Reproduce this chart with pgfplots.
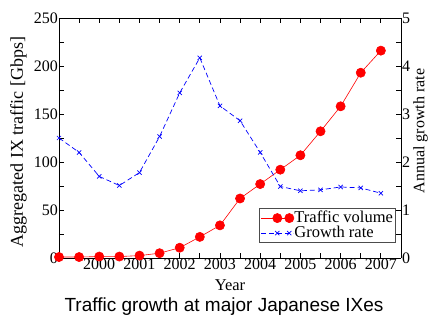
\documentclass[border=0pt]{standalone}
\usepackage{pgfplots}
\pgfplotsset{compat=1.18}
\usepackage{fontspec}
\setmainfont{Liberation Serif}
\newfontfamily\titlefont{Liberation Sans}
\pgfplotstableread{
x vol rate
1999.0 1.0 2.50
1999.5 1.0 2.20
2000.0 1.5 1.70
2000.5 1.5 1.51
2001.0 2.5 1.78
2001.5 5.0 2.53
2002.0 10.7 3.44
2002.5 22.0 4.17
2003.0 34.0 3.17
2003.5 62.0 2.86
2004.0 77.0 2.20
2004.5 92.0 1.49
2005.0 107.0 1.40
2005.5 132.0 1.42
2006.0 158.0 1.48
2006.5 193.0 1.46
2007.0 216.0 1.35
}\data
\begin{document}
\begin{tikzpicture}
\path[use as bounding box] (0,0) rectangle (430pt,318pt);
\pgfplotsset{
  every axis/.append style={
    scale only axis, width=342pt, height=240pt,
    at={(59pt,60pt)}, anchor=south west,
    xmin=1999, xmax=2007.5,
    font=\fontsize{16}{18}\selectfont,
    /pgf/number format/assume math mode=true,
    tick style={black, line width=0.8pt},
    major tick length=5pt, minor tick length=5pt,
    axis line style={line width=0.8pt},
  }
}
\begin{axis}[
  ymin=0, ymax=250,
  axis y line*=left,
  xtick={2000,2001,...,2007},
  minor xtick={1999.5,2000.5,...,2007.5},
  x tick label style={/pgf/number format/1000 sep={}, inner sep=1pt},
  ytick={0,50,...,250},
  minor ytick={25,75,...,225},
  y tick label style={inner sep=1pt},
  ylabel={Aggregated IX traffic [Gbps]},
  ylabel style={at={(axis description cs:0,0.5)}, anchor=south, yshift=32pt, xshift=-4pt,
    inner sep=0pt, font=\fontsize{18}{20}\selectfont},
  xlabel={Year},
  xlabel style={at={(axis description cs:0.5,0)}, anchor=north, yshift=-21pt, inner sep=0pt,
    font=\fontsize{16.5}{18}\selectfont},
  tick align=inside,
  xtick pos=both,
  legend style={at={(0.985,0.0625)}, anchor=south east, draw=black!70, line width=0.8pt,
    font=\fontsize{16.5}{16.5}\selectfont, inner sep=2pt, row sep=0pt,
    nodes={inner sep=0.5pt, text height=11pt, text depth=3pt},
    legend cell align=left},
  legend image code/.code={
    \path (-16pt,0pt) -- (16pt,0pt);
    \draw[#1] (0pt,0pt) -- (12pt,0pt);
    \draw[#1, only marks] plot coordinates {(0pt,0pt) (12pt,0pt)};
  },
]
\addplot[red, line width=0.6pt, mark=*, mark size=4.6pt, mark options={solid, fill=red}] table[x=x, y=vol] {\data};
\addlegendentry{Traffic volume}
\addlegendimage{blue, dash pattern=on 5pt off 3pt, line width=0.7pt, mark=x, mark size=3pt, mark options={solid}}
\addlegendentry{Growth rate}
\end{axis}
\begin{axis}[
  ymin=0, ymax=5,
  axis y line*=right,
  axis x line=none,
  ytick={0,1,...,5},
  minor ytick={0.5,1.5,...,4.5},
  yticklabel style={inner sep=1pt},
  tick align=inside,
  ylabel={Annual growth rate},
  ylabel near ticks,
  ylabel style={inner sep=1pt, yshift=-1pt, xshift=7pt},
]
\addplot[blue, dash pattern=on 5pt off 3pt, line width=0.7pt, mark=x, mark size=3pt, mark options={solid}] table[x=x, y=rate] {\data};
\end{axis}
\node[font=\titlefont\fontsize{19}{21}\selectfont, anchor=base] at (224pt,6.3pt) {Traffic growth at major Japanese IXes};
\end{tikzpicture}
\end{document}
